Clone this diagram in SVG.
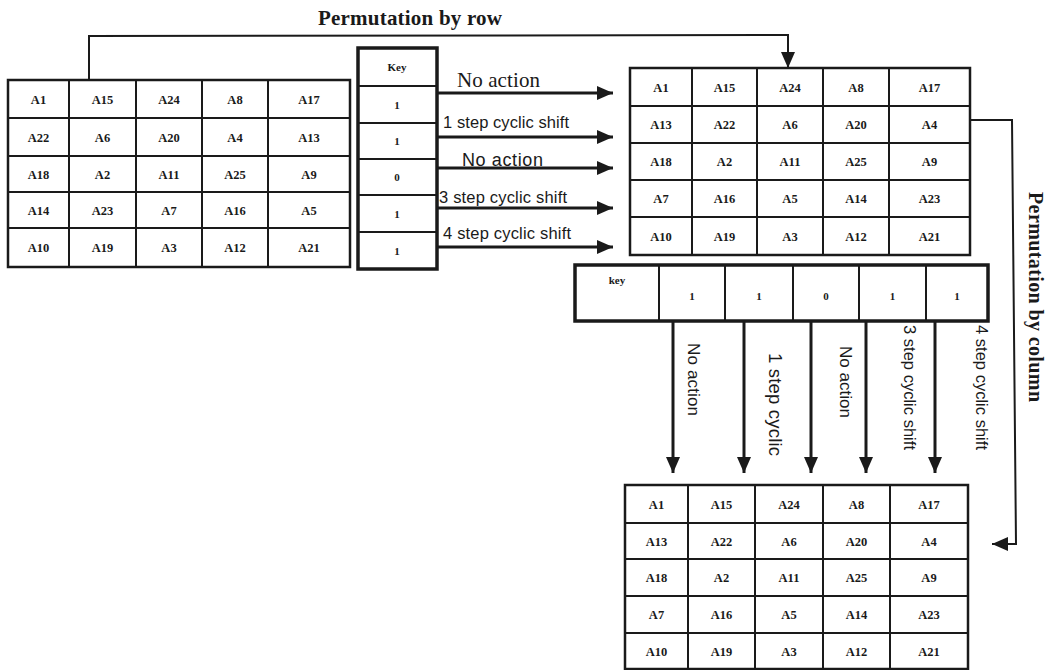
<svg xmlns="http://www.w3.org/2000/svg" width="1049" height="670" viewBox="0 0 1049 670">
<defs>
<style>
.grid{fill:none;stroke:#1a1a1a;stroke-width:2}
.frame{fill:#fff;stroke:#1a1a1a;stroke-width:2.5}
.thick{fill:#fff;stroke:#1a1a1a;stroke-width:3.5}
.cell{font-family:"Liberation Serif","Times New Roman",serif;font-weight:bold;font-size:12.5px;fill:#1a1a1a;text-anchor:middle}
.small{font-family:"Liberation Serif","Times New Roman",serif;font-weight:bold;font-size:11px;fill:#1a1a1a;text-anchor:middle}
.title{font-family:"Liberation Serif","Times New Roman",serif;font-weight:bold;font-size:21px;fill:#1a1a1a}
.lbl{font-family:"Liberation Sans",Arial,sans-serif;font-size:16.5px;fill:#1a1a1a}
.lblserif{font-family:"Liberation Serif","Times New Roman",serif;font-size:21px;fill:#1a1a1a}
.conn{fill:none;stroke:#1a1a1a;stroke-width:2}
.arr{fill:none;stroke:#1a1a1a;stroke-width:3}
</style>
<marker id="ah" viewBox="0 0 16 14" refX="16" refY="7" markerWidth="16" markerHeight="14" markerUnits="userSpaceOnUse" orient="auto">
<path d="M0,0 L16,7 L0,14 z" fill="#1a1a1a"/>
</marker>
</defs>
<rect width="1049" height="670" fill="#fff"/>

<!-- Titles -->
<text class="title" x="318" y="25" textLength="184">Permutation by row</text>
<text class="title" transform="translate(1029,192) rotate(90)" style="font-size:20px" textLength="210">Permutation by column</text>

<!-- Left table -->
<g id="table-input">
<rect class="frame" x="8" y="80" width="342" height="187"/>
<path class="grid" d="M69,80V267M136,80V267M202,80V267M268,80V267M8,118H350M8,156H350M8,192H350M8,228H350"/>
<text class="cell" x="38.5" y="103.5">A1</text><text class="cell" x="102.5" y="103.5">A15</text><text class="cell" x="169" y="103.5">A24</text><text class="cell" x="235" y="103.5">A8</text><text class="cell" x="309" y="103.5">A17</text>
<text class="cell" x="38.5" y="141.5">A22</text><text class="cell" x="102.5" y="141.5">A6</text><text class="cell" x="169" y="141.5">A20</text><text class="cell" x="235" y="141.5">A4</text><text class="cell" x="309" y="141.5">A13</text>
<text class="cell" x="38.5" y="178.5">A18</text><text class="cell" x="102.5" y="178.5">A2</text><text class="cell" x="169" y="178.5">A11</text><text class="cell" x="235" y="178.5">A25</text><text class="cell" x="309" y="178.5">A9</text>
<text class="cell" x="38.5" y="214.5">A14</text><text class="cell" x="102.5" y="214.5">A23</text><text class="cell" x="169" y="214.5">A7</text><text class="cell" x="235" y="214.5">A16</text><text class="cell" x="309" y="214.5">A5</text>
<text class="cell" x="38.5" y="252">A10</text><text class="cell" x="102.5" y="252">A19</text><text class="cell" x="169" y="252">A3</text><text class="cell" x="235" y="252">A12</text><text class="cell" x="309" y="252">A21</text>
</g>

<!-- Key column -->
<g id="key-column">
<rect class="thick" x="358" y="48" width="79" height="221"/>
<path class="grid" d="M358,86H437M358,123H437M358,159H437M358,195H437M358,232H437"/>
<text class="small" x="397" y="71">Key</text>
<text class="small" x="397" y="109">1</text>
<text class="small" x="397" y="145">1</text>
<text class="small" x="397" y="181">0</text>
<text class="small" x="397" y="218">1</text>
<text class="small" x="397" y="255">1</text>
</g>

<!-- Right table (after row permutation) -->
<g id="table-row-permuted">
<rect class="frame" x="630" y="68" width="340" height="187"/>
<path class="grid" d="M692,68V255M757,68V255M823,68V255M889,68V255M630,106H970M630,143H970M630,180H970M630,217H970"/>
<text class="cell" x="661" y="91.5">A1</text><text class="cell" x="724.5" y="91.5">A15</text><text class="cell" x="790" y="91.5">A24</text><text class="cell" x="856" y="91.5">A8</text><text class="cell" x="929.5" y="91.5">A17</text>
<text class="cell" x="661" y="129">A13</text><text class="cell" x="724.5" y="129">A22</text><text class="cell" x="790" y="129">A6</text><text class="cell" x="856" y="129">A20</text><text class="cell" x="929.5" y="129">A4</text>
<text class="cell" x="661" y="166">A18</text><text class="cell" x="724.5" y="166">A2</text><text class="cell" x="790" y="166">A11</text><text class="cell" x="856" y="166">A25</text><text class="cell" x="929.5" y="166">A9</text>
<text class="cell" x="661" y="203">A7</text><text class="cell" x="724.5" y="203">A16</text><text class="cell" x="790" y="203">A5</text><text class="cell" x="856" y="203">A14</text><text class="cell" x="929.5" y="203">A23</text>
<text class="cell" x="661" y="240.5">A10</text><text class="cell" x="724.5" y="240.5">A19</text><text class="cell" x="790" y="240.5">A3</text><text class="cell" x="856" y="240.5">A12</text><text class="cell" x="929.5" y="240.5">A21</text>
</g>

<!-- Key row -->
<g id="key-row">
<rect class="thick" x="575" y="265" width="413" height="56"/>
<path class="grid" d="M659,265V321M725,265V321M793,265V321M859,265V321M926,265V321"/>
<text class="small" x="617" y="284">key</text>
<text class="small" x="692" y="300">1</text>
<text class="small" x="759" y="300">1</text>
<text class="small" x="826" y="300">0</text>
<text class="small" x="892.5" y="300">1</text>
<text class="small" x="957" y="300">1</text>
</g>

<!-- Bottom table (after column permutation) -->
<g id="table-col-permuted">
<rect class="frame" x="625" y="485" width="343" height="184"/>
<path class="grid" d="M688,485V669M755,485V669M823,485V669M890,485V669M625,523H968M625,559H968M625,596H968M625,633H968"/>
<text class="cell" x="656.5" y="508.5">A1</text><text class="cell" x="721.5" y="508.5">A15</text><text class="cell" x="789" y="508.5">A24</text><text class="cell" x="856.5" y="508.5">A8</text><text class="cell" x="929" y="508.5">A17</text>
<text class="cell" x="656.5" y="545.5">A13</text><text class="cell" x="721.5" y="545.5">A22</text><text class="cell" x="789" y="545.5">A6</text><text class="cell" x="856.5" y="545.5">A20</text><text class="cell" x="929" y="545.5">A4</text>
<text class="cell" x="656.5" y="582">A18</text><text class="cell" x="721.5" y="582">A2</text><text class="cell" x="789" y="582">A11</text><text class="cell" x="856.5" y="582">A25</text><text class="cell" x="929" y="582">A9</text>
<text class="cell" x="656.5" y="619">A7</text><text class="cell" x="721.5" y="619">A16</text><text class="cell" x="789" y="619">A5</text><text class="cell" x="856.5" y="619">A14</text><text class="cell" x="929" y="619">A23</text>
<text class="cell" x="656.5" y="655.5">A10</text><text class="cell" x="721.5" y="655.5">A19</text><text class="cell" x="789" y="655.5">A3</text><text class="cell" x="856.5" y="655.5">A12</text><text class="cell" x="929" y="655.5">A21</text>
</g>

<!-- Connectors -->
<g id="connectors">
<polyline class="conn" points="89,80 89,36 788,35 788,68" marker-end="url(#ah)"/>
<line class="arr" x1="437" y1="93" x2="613" y2="93" marker-end="url(#ah)"/>
<line class="arr" x1="437" y1="137" x2="613" y2="137" marker-end="url(#ah)"/>
<line class="arr" x1="437" y1="168" x2="613" y2="168" marker-end="url(#ah)"/>
<line class="arr" x1="437" y1="208" x2="613" y2="208" marker-end="url(#ah)"/>
<line class="arr" x1="437" y1="247" x2="613" y2="247" marker-end="url(#ah)"/>
<polyline class="conn" points="970,120 1012,120 1016,544 992,544" marker-end="url(#ah)"/>
<line class="arr" x1="673" y1="321" x2="673" y2="473" marker-end="url(#ah)"/>
<line class="arr" x1="744" y1="321" x2="744" y2="473" marker-end="url(#ah)"/>
<line class="arr" x1="811" y1="321" x2="811" y2="473" marker-end="url(#ah)"/>
<line class="arr" x1="866" y1="321" x2="866" y2="473" marker-end="url(#ah)"/>
<line class="arr" x1="935" y1="321" x2="935" y2="473" marker-end="url(#ah)"/>
</g>

<!-- Connector labels -->
<g id="labels">
<text class="lblserif" x="457" y="87" textLength="83">No action</text>
<text class="lbl" x="443" y="128" textLength="126">1 step cyclic shift</text>
<text class="lbl" x="462" y="166" style="font-size:18px" textLength="81">No action</text>
<text class="lbl" x="439" y="203" textLength="128">3 step cyclic shift</text>
<text class="lbl" x="443" y="239" textLength="128">4 step cyclic shift</text>
<text class="lbl" transform="translate(688,343) rotate(90)" style="font-size:17px" textLength="73">No action</text>
<text class="lbl" transform="translate(769,353) rotate(90)" style="font-size:18.5px" textLength="103">1 step cyclic</text>
<text class="lbl" transform="translate(840,346) rotate(90)" style="font-size:17px" textLength="72">No action</text>
<text class="lbl" transform="translate(904,325) rotate(90)" textLength="125">3 step cyclic shift</text>
<text class="lbl" transform="translate(976,325) rotate(90)" textLength="125">4 step cyclic shift</text>
</g>
</svg>
